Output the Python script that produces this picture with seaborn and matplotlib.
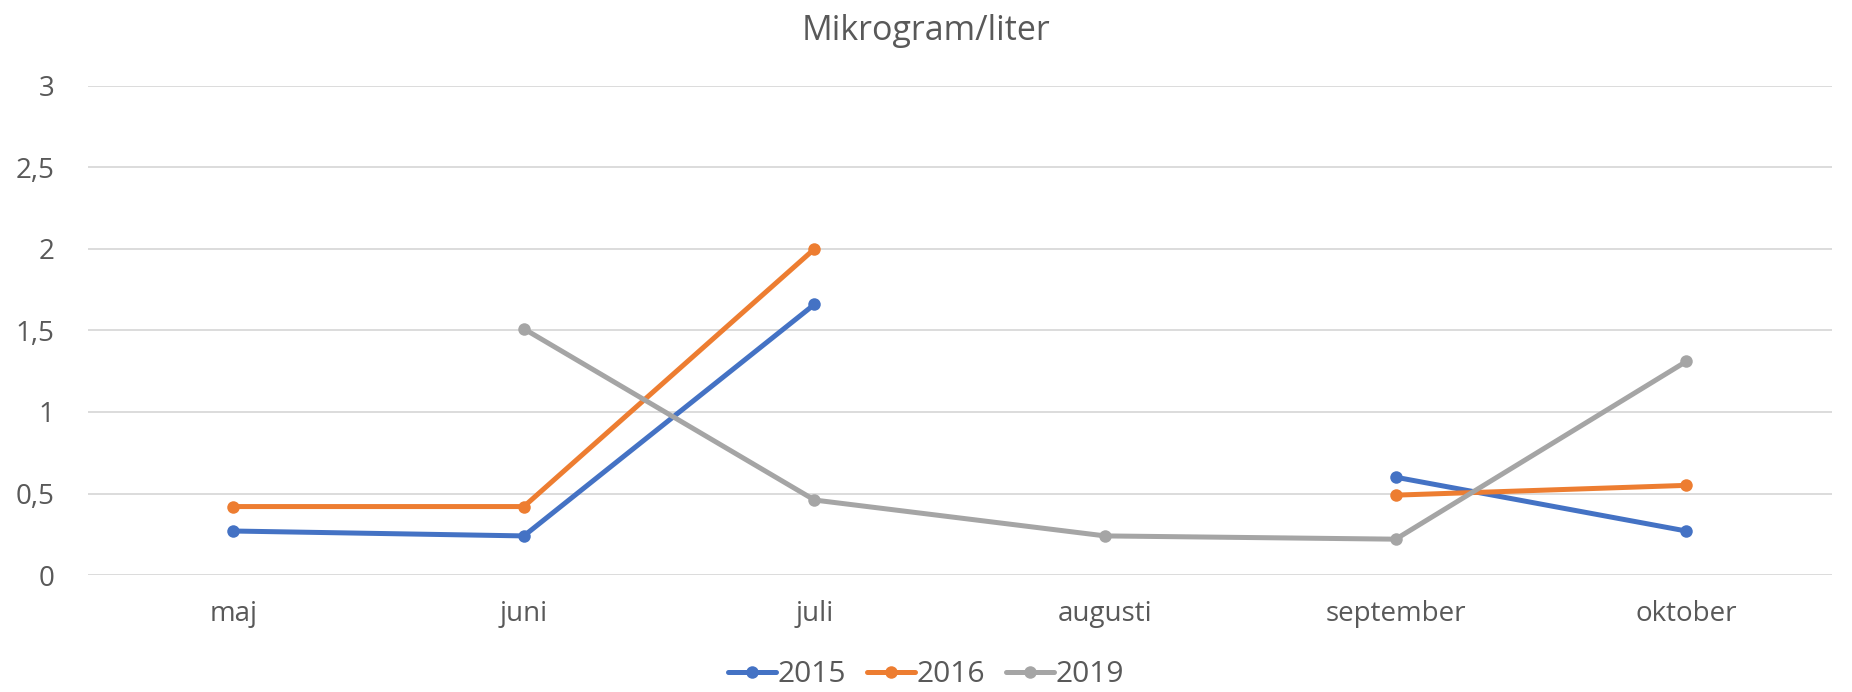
import numpy as np
import pandas as pd
import matplotlib
matplotlib.use("Agg")
import matplotlib.pyplot as plt
import seaborn as sns
from matplotlib.lines import Line2D

months = ["maj", "juni", "juli", "augusti", "september", "oktober"]
years = ["2015", "2016", "2019"]
v2015 = [0.27, 0.24, 1.66, None, 0.60, 0.27]
v2016 = [0.42, 0.42, 2.00, None, 0.49, 0.55]
v2019 = [None, 1.51, 0.46, 0.24, 0.22, 1.31]
yticks = [0, 0.5, 1, 1.5, 2, 2.5, 3]
ytick_labels = ["0", "0,5", "1", "1,5", "2", "2,5", "3"]
title = "Mikrogram/liter"
colors = ["#4472C4", "#ED7D31", "#A5A5A5"]

rows = []
for yr, vals in zip(years, [v2015, v2016, v2019]):
    seg = 0
    for i, v in enumerate(vals):
        if v is None:
            seg += 1
            continue
        rows.append({"month": i, "value": v, "year": yr, "seg": f"{yr}-{seg}"})
df = pd.DataFrame(rows)

sns.set_theme(style="white")
plt.rcParams["font.family"] = ["Open Sans", "DejaVu Sans"]
text_color = "#595959"

fig = plt.figure(figsize=(18.52, 6.92), dpi=100)
ax = fig.add_axes([0.0475, 0.169, 0.9415, 0.707])

sns.lineplot(data=df, x="month", y="value", hue="year", units="seg",
             estimator=None, palette=colors, hue_order=years,
             marker="o", markersize=9, markeredgewidth=0, linewidth=3.6,
             ax=ax, legend=False, zorder=3)

ax.set_xlim(-0.5, len(months) - 0.5)
ax.set_ylim(0, 3)
ax.set_yticks(yticks)
ax.set_yticklabels(ytick_labels)
ax.set_xticks(range(len(months)))
ax.set_xticklabels(months)
ax.set_xlabel("")
ax.set_ylabel("")
ax.yaxis.grid(True, color="#D9D9D9", linewidth=1.3)
ax.set_axisbelow(True)
for s in ax.spines.values():
    s.set_visible(False)
ax.tick_params(axis="both", length=0, labelsize=20, colors=text_color)
ax.tick_params(axis="x", pad=18)
ax.tick_params(axis="y", pad=24)

fig.suptitle(title, y=0.98, fontsize=24.5, color=text_color)

handles = [Line2D([0], [0], color=c, marker="o", markersize=9, markeredgewidth=0,
                  linewidth=3.6) for c in colors]
fig.legend(handles, years, loc="lower center", bbox_to_anchor=(0.5, -0.035), ncol=3,
           frameon=False, fontsize=21.5, labelcolor=text_color, handlelength=1.6,
           handletextpad=0.05, columnspacing=0.7)

fig.savefig("out.png", dpi=100)
